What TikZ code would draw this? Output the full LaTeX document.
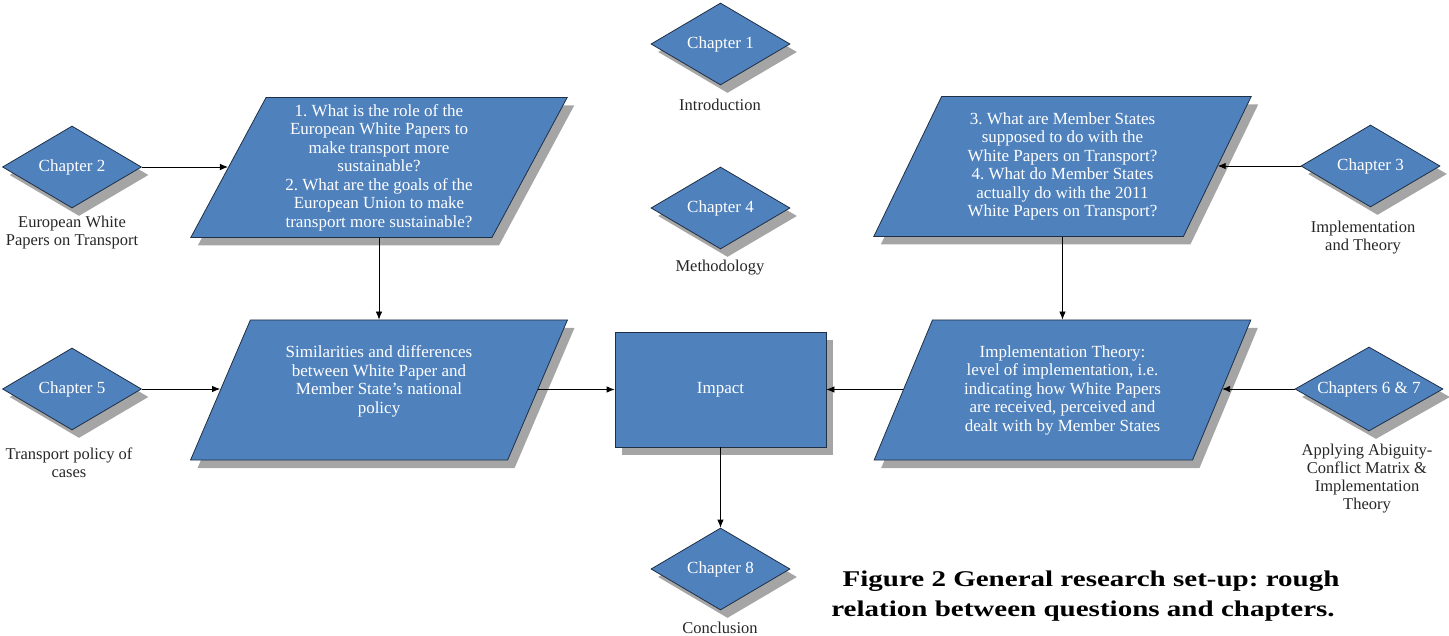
\documentclass[tikz,border=0pt]{standalone}
\usepackage{fontspec}
\setmainfont{Liberation Serif}
\newfontfamily\capfont{Liberation Serif}[FakeStretch=1.29]
\frenchspacing
\usetikzlibrary{shapes.geometric,shadows,arrows.meta}
\definecolor{boxblue}{HTML}{4F81BD}
\definecolor{boxline}{HTML}{1F2F45}
\definecolor{shadowgray}{HTML}{A5A5A5}
\definecolor{labeltext}{HTML}{262626}
\tikzset{
  shadowed/.style={drop shadow={shadow xshift=7pt, shadow yshift=-8pt, fill=shadowgray, opacity=1}},
  chapter/.style={diamond, aspect=1.7, minimum width=139pt, minimum height=82pt, inner sep=0pt,
    fill=boxblue, draw=boxline, line width=0.8pt, text=white,
    font=\fontsize{17}{19}\selectfont, shadowed},
  question/.style={trapezium, trapezium left angle=63.75, trapezium right angle=116.25,
    trapezium stretches=true, minimum width=378pt, minimum height=140pt, inner sep=0pt,
    fill=boxblue, draw=boxline, line width=0.8pt, text=white, align=center,
    font=\fontsize{17}{18.5}\selectfont, shadowed},
  impactbox/.style={rectangle, minimum width=211pt, minimum height=115pt, inner sep=0pt,
    fill=boxblue, draw=boxline, line width=0.8pt, text=white,
    font=\fontsize{17}{18.5}\selectfont, shadowed},
  chaplabel/.style={align=center, text=labeltext, font=\fontsize{16.5}{18}\selectfont, inner sep=0pt},
  conn/.style={draw=black, line width=0.8pt, -{Latex[length=8pt,width=6.5pt]}},
  caption/.style={align=center, text=black, font=\capfont\fontsize{22.5}{30}\selectfont\bfseries, inner sep=0pt}
}
\begin{document}
\begin{tikzpicture}[x=1pt,y=-1pt]
\useasboundingbox (0,0) rectangle (1449,636);

% diamonds
\node[chapter] (c1) at (720.5,44) {Chapter 1};
\node[chaplabel] (l1) at (720,105) {Introduction};
\node[chapter] (c4) at (720.5,208) {Chapter 4};
\node[chaplabel] (l4) at (720,268) {Methodology};
\node[chapter] (c2) at (72,167) {Chapter 2};
\node[chaplabel] (l2) at (72,233) {European White\\Papers on Transport};
\node[chapter] (c5) at (72,389) {Chapter 5};
\node[chaplabel] (l5) at (69,463) {Transport policy of\\cases};
\node[chapter] (c3) at (1370.5,166) {Chapter 3};
\node[chaplabel] (l3) at (1363,238) {Implementation\\and Theory};
\node[chapter, minimum width=148pt, minimum height=84pt, aspect=1.76] (c67) at (1369,389) {Chapters 6 \& 7};
\node[chaplabel] (l67) at (1367,478.5) {Applying Abiguity-\\Conflict Matrix \&\\Implementation\\Theory};
\node[chapter] (c8) at (720.5,569) {Chapter 8};
\node[chaplabel] (l8) at (720,628) {Conclusion};

% questions
\node[question] (q1) at (379,167.5) {1. What is the role of the\\European White Papers to\\make transport more\\sustainable?\\2. What are the goals of the\\European Union to make\\transport more sustainable?};
\node[question] (q2) at (379,390) {Similarities and differences\\between White Paper and\\Member State’s national\\policy\\[2pt]};
\node[question] (q3) at (1062.5,166.5) {3. What are Member States\\supposed to do with the\\White Papers on Transport?\\4. What do Member States\\actually do with the 2011\\White Papers on Transport?};
\node[question] (q4) at (1062.5,390) {Implementation Theory:\\level of implementation, i.e.\\indicating how White Papers\\are received, perceived and\\dealt with by Member States};

% impact
\node[impactbox] (imp) at (720.5,389.5) {Impact};

% connectors
\draw[conn] (c2.east) -- (c2.east -| q1.left side);
\draw[conn] (q1.center |- q1.bottom side) -- (q1.center |- q2.top side);
\draw[conn] (c5.east) -- (c5.east -| q2.left side);
\draw[conn] (imp.west -| q2.right side) -- (imp.west);
\draw[conn] (c3.west) -- (c3.west -| q3.right side);
\draw[conn] (q3.center |- q3.bottom side) -- (q3.center |- q4.top side);
\draw[conn] (c67.west) -- (c67.west -| q4.right side);
\draw[conn] (imp.east -| q4.left side) -- (imp.east);
\draw[conn] (imp.south) -- (c8.north);

% caption
\node[caption] (cap) at (1083,596) {\hspace*{16pt}Figure 2 General research set-up: rough\\relation between questions and chapters.};
\end{tikzpicture}
\end{document}
